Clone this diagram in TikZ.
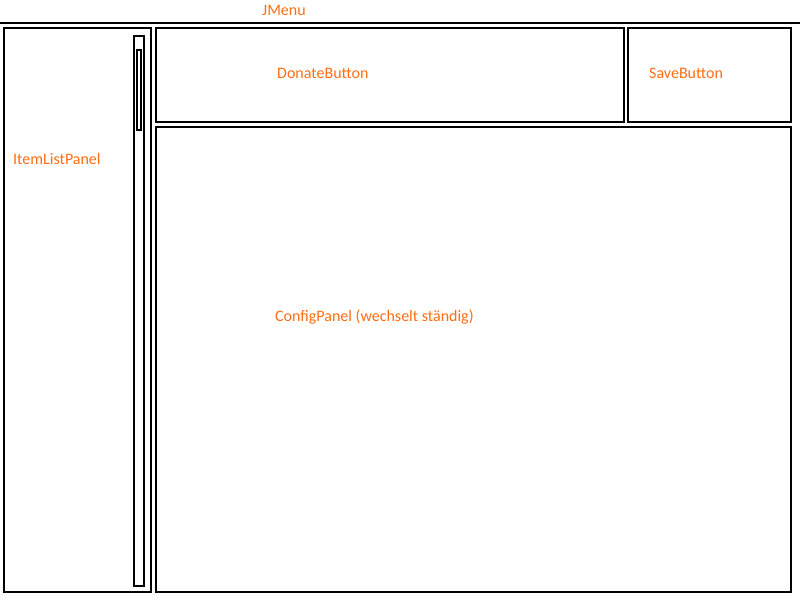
\documentclass[tikz,border=0pt]{standalone}
\usepackage{fontspec}
\setmainfont{Carlito}
\definecolor{lbl}{RGB}{255,110,20}
\begin{document}
\begin{tikzpicture}[x=1pt,y=-1pt,
  box/.style={draw=black,line width=2pt,inner sep=0pt,outer sep=0pt},
  lab/.style={text=lbl,font=\fontsize{16pt}{19pt}\selectfont,anchor=west,inner sep=0pt}]
\useasboundingbox (0,0) rectangle (800,600);
\fill[white] (0,0) rectangle (800,600);
\coordinate (ml) at (0,23);
\coordinate (mr) at (800,23);
\draw[line width=2pt] (ml) -- (mr);
\node[lab] (jmenu) at (262,10) {JMenu};
% boxes
\node[box,minimum width=147pt,minimum height=564pt] (items) at (77.5,310) {};
\node[box,minimum width=10pt,minimum height=550pt] (scroll) at (139,311) {};
\node[box,minimum width=4pt,minimum height=80pt] (thumb) at (139,90) {};
\node[box,minimum width=468pt,minimum height=94pt] (donate) at (390,75) {};
\node[box,minimum width=163pt,minimum height=94pt] (save) at (709.5,75) {};
\node[box,minimum width=635pt,minimum height=465pt] (config) at (473.5,359.5) {};
% labels
\node[lab] (ldonate) at (277,73) {DonateButton};
\node[lab] (lsave) at (649,73) {SaveButton};
\node[lab] (litems) at (13,159) {ItemListPanel};
\node[lab] (lconfig) at (275,317) {ConfigPanel (wechselt ständig)};
\end{tikzpicture}
\end{document}
